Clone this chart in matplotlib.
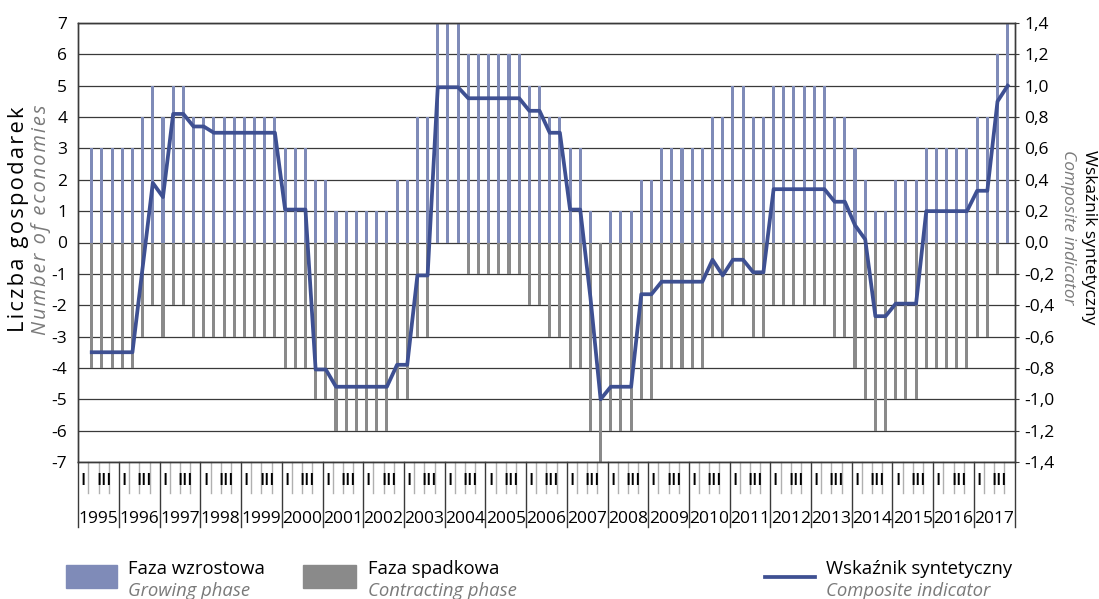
import numpy as np
import matplotlib
matplotlib.use("Agg")
import matplotlib.pyplot as plt
from matplotlib.transforms import blended_transform_factory
from matplotlib.patches import Rectangle
from matplotlib.lines import Line2D
from matplotlib.ticker import FuncFormatter

plt.rcParams['font.family'] = ['Open Sans', 'DejaVu Sans']

# ---------------- data (quarterly, 1995 Q2 - 2017 Q4) ----------------
years = list(range(1995, 2018))
quarter_labels = ["I", "", "III", ""]

growing = [3, 3, 3, 3, 3, 4, 5, 4, 5, 5,
           4, 4, 4, 4, 4, 4, 4, 4, 4, 3,
           3, 3, 2, 2, 1, 1, 1, 1, 1, 1,
           2, 2, 4, 4, 7, 7, 7, 6, 6, 6,
           6, 6, 6, 5, 5, 4, 4, 3, 3, 1,
           0, 1, 1, 1, 2, 2, 3, 3, 3, 3,
           3, 4, 4, 5, 5, 4, 4, 5, 5, 5,
           5, 5, 5, 4, 4, 3, 2, 1, 1, 2,
           2, 2, 3, 3, 3, 3, 3, 4, 4, 6,
           7]

contracting = [-4, -4, -4, -4, -4, -3, -2, -3, -2, -2,
               -3, -3, -3, -3, -3, -3, -3, -3, -3, -4,
               -4, -4, -5, -5, -6, -6, -6, -6, -6, -6,
               -5, -5, -3, -3, 0, 0, 0, -1, -1, -1,
               -1, -1, -1, -2, -2, -3, -3, -4, -4, -6,
               -7, -6, -6, -6, -5, -5, -4, -4, -4, -4,
               -4, -3, -3, -2, -2, -3, -3, -2, -2, -2,
               -2, -2, -2, -3, -3, -4, -5, -6, -6, -5,
               -5, -5, -4, -4, -4, -4, -4, -3, -3, -1,
               0]

composite = [-0.70, -0.70, -0.70, -0.70, -0.70, -0.16, 0.38, 0.29, 0.82, 0.82,
             0.74, 0.74, 0.70, 0.70, 0.70, 0.70, 0.70, 0.70, 0.70, 0.21,
             0.21, 0.21, -0.81, -0.81, -0.92, -0.92, -0.92, -0.92, -0.92, -0.92,
             -0.78, -0.78, -0.21, -0.21, 0.99, 0.99, 0.99, 0.92, 0.92, 0.92,
             0.92, 0.92, 0.92, 0.84, 0.84, 0.70, 0.70, 0.21, 0.21, -0.35,
             -1.00, -0.92, -0.92, -0.92, -0.33, -0.33, -0.25, -0.25, -0.25, -0.25,
             -0.25, -0.11, -0.21, -0.11, -0.11, -0.19, -0.19, 0.34, 0.34, 0.34,
             0.34, 0.34, 0.34, 0.26, 0.26, 0.11, 0.02, -0.47, -0.47, -0.39,
             -0.39, -0.39, 0.20, 0.20, 0.20, 0.20, 0.20, 0.33, 0.33, 0.90,
             1.00]

# ---------------- styling ----------------
BLUE = '#7F8BB8'
GREY = '#8A8A8A'
LINE = '#3E5092'
GRID = '#3A3A3A'
LABEL_GREY = '#7A7A7A'
FS = 12.5

fig = plt.figure(figsize=(10.99, 5.99), dpi=100)
L, R, T, B = 78.3, 1014.6, 23.0, 462.0
W_, H_ = 1099.0, 599.0
ax = fig.add_axes([L / W_, 1 - B / H_, (R - L) / W_, (B - T) / H_])

n_q = len(years) * 4
x = np.arange(len(growing)) + 1.32  # position in quarters from 1995 Q1

ax.bar(x, growing, width=0.3, color=BLUE, zorder=2)
ax.bar(x, contracting, width=0.3, color=GREY, zorder=2)

ax.set_xlim(0, n_q)
ax.set_ylim(-7, 7)
ax.set_yticks(range(-7, 8))
ax.yaxis.set_major_formatter(FuncFormatter(lambda v, p: f"{int(v)}"))
ax.grid(axis='y', color=GRID, linewidth=0.9, zorder=1)
ax.set_axisbelow(True)
ax.set_xticks([])
ax.tick_params(axis='y', length=0, pad=8, labelsize=FS)
for s in ax.spines.values():
    s.set_color(GRID)
    s.set_linewidth(1.0)

ax2 = ax.twinx()
ax2.plot(x, composite, color=LINE, linewidth=2.7, solid_joinstyle='round', zorder=3)
ax2.set_ylim(-1.4, 1.4)
ax2.set_yticks(np.round(np.arange(-1.4, 1.41, 0.2), 1))
ax2.yaxis.set_major_formatter(FuncFormatter(lambda v, p: f"{v:.1f}".replace('.', ',').replace('-0,0', '0,0')))
ax2.tick_params(axis='y', length=3, pad=4, labelsize=FS, color=GRID)
for s in ax2.spines.values():
    s.set_color(GRID)
    s.set_linewidth(1.0)
ax2.set_xlim(0, n_q)

# ---------------- category axis (quarters / years) ----------------
trans = blended_transform_factory(ax.transData, ax.transAxes)
for j in range(n_q + 1):
    if j % 4 == 0:
        ax.add_line(Line2D([j, j], [0, -0.148], transform=trans, color=GRID,
                           linewidth=1.0, clip_on=False))
    else:
        ax.add_line(Line2D([j, j], [0, -0.071], transform=trans, color='#B0B0B0',
                           linewidth=1.0, clip_on=False))
for i, yr in enumerate(years):
    for q, ql in enumerate(quarter_labels):
        if ql:
            ax.text(4 * i + q + 0.5, -0.043, ql, transform=trans, ha='center',
                    va='center', fontsize=12, fontweight='semibold', color='black')
    ax.text(4 * i + 2, -0.130, str(yr), transform=trans, ha='center',
            va='center', fontsize=FS, color='black')

# ---------------- axis titles ----------------
renderer = fig.canvas.get_renderer()


def fitted_vertical(xpx, ypx, s, target_len, **kw):
    """Letter-spaced vertical title scaled to the length seen in the reference."""
    t = fig.text(xpx / W_, 1 - ypx / H_, '\u200a'.join(s), rotation=90, ha='center',
                 va='bottom', fontsize=14, **kw)
    h = t.get_window_extent(renderer).height
    t.set_fontsize(14 * target_len / h)
    return t


fitted_vertical(19, 332, "Liczba gospodarek", 226, color='black')
fitted_vertical(41, 335, "Number of economies", 232, color=LABEL_GREY, style='italic')
fig.text(1089 / W_, 1 - 150 / H_, "Wskaźnik syntetyczny", rotation=270, ha='center',
         va='top', fontsize=FS, color='black')
fig.text(1068 / W_, 1 - 150 / H_, "Composite indicator", rotation=270, ha='center',
         va='top', fontsize=FS, color=LABEL_GREY, style='italic')

# ---------------- legend ----------------
def fx(px):
    return px / W_

def fy(py):
    return 1 - py / H_

fig.add_artist(Rectangle((fx(66), fy(588)), fx(117) - fx(66), fy(565) - fy(588),
                         transform=fig.transFigure, color=BLUE))
fig.add_artist(Rectangle((fx(303), fy(588)), fx(356) - fx(303), fy(565) - fy(588),
                         transform=fig.transFigure, color=GREY))
fig.add_artist(Line2D([fx(765), fx(815)], [fy(577), fy(577)], transform=fig.transFigure,
                      color=LINE, linewidth=2.7))
legend_items = [(128, "Faza wzrostowa", "Growing phase"),
                (368, "Faza spadkowa", "Contracting phase"),
                (826, "Wskaźnik syntetyczny", "Composite indicator")]
LFS = 13.3
for px, pl, en in legend_items:
    fig.text(fx(px), fy(569), pl, ha='left', va='center', fontsize=LFS, color='black')
    fig.text(fx(px), fy(591), en, ha='left', va='center', fontsize=LFS,
             color=LABEL_GREY, style='italic')

fig.savefig("out.png", dpi=100)
